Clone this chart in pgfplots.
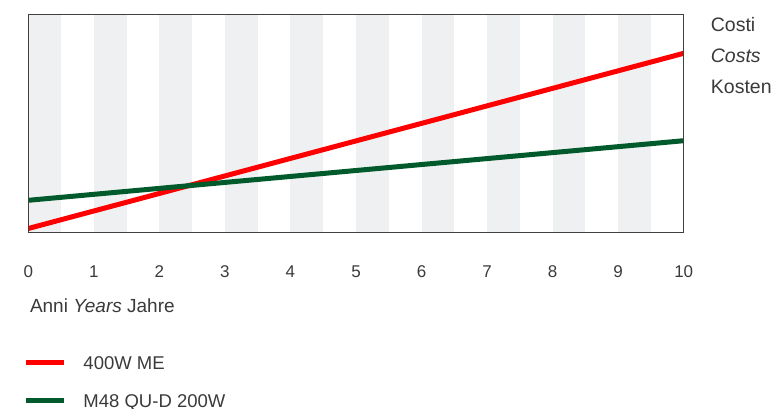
\documentclass[border=0pt]{standalone}
\usepackage{fontspec}
\setmainfont{Liberation Sans}
\usepackage{pgfplots}
\pgfplotsset{compat=1.18}
\definecolor{txt}{HTML}{3A3A3A}
\definecolor{stripe}{HTML}{EFF0F2}
\definecolor{redline}{HTML}{FF0000}
\definecolor{greenline}{HTML}{005A2C}
\begin{document}
\begin{tikzpicture}
\useasboundingbox (0pt,0pt) rectangle (774pt,-409pt);
\begin{axis}[
  at={(28.3pt,-232pt)}, anchor=south west,
  scale only axis, width=655.4pt, height=218pt,
  xmin=0, xmax=10, ymin=0, ymax=218,
  xtick={0,...,10}, ytick=\empty, major tick length=0pt,
  axis line style={draw=black!75, line width=0.9pt},
  axis on top, clip mode=individual,
  /pgf/number format/assume math mode=true,
  xticklabel style={anchor=base, yshift=-45pt, text=txt, font=\fontsize{17}{20}\selectfont},
  xlabel={Anni \textit{Years} Jahre},
  xlabel style={at={(axis description cs:0,0)}, anchor=base west, yshift=-80pt, xshift=1.5pt, inner sep=0pt, text=txt, font=\fontsize{19}{22}\selectfont},
  legend style={at={(axis description cs:0,0)}, anchor=north west, xshift=-4.3pt, yshift=-123pt,
    draw=none, fill=none, inner sep=0pt, outer sep=0pt, row sep=24.5pt, column sep=17.5pt,
    nodes={inner sep=0pt, text=txt, font=\fontsize{18.5}{22}\selectfont, text height=14pt, text depth=0pt}},
  legend cell align=left,
  legend image code/.code={\draw[#1, line width=5pt] (0pt,0pt) -- (37pt,0pt);},
]
% alternating background bands, one per half year
\pgfplotsinvokeforeach{0,...,9}{
  \fill[stripe] (axis cs:#1,0) rectangle (axis cs:#1.5,218);
}
\addplot[redline, line width=5pt] coordinates {(0,3.5) (10,178.7)};
\addlegendentry{400W ME}
\addplot[greenline, line width=5pt] coordinates {(0,31.7) (10,91.3)};
\addlegendentry{M48 QU-D 200W}
\node[anchor=base west, inner sep=0pt, text=txt, font=\fontsize{19.5}{22}\selectfont] at (rel axis cs:1,1) [xshift=27pt, yshift=-17pt] {Costi};
\node[anchor=base west, inner sep=0pt, text=txt, font=\fontsize{19.5}{22}\selectfont] at (rel axis cs:1,1) [xshift=27pt, yshift=-48pt] {\textit{Costs}};
\node[anchor=base west, inner sep=0pt, text=txt, font=\fontsize{19.5}{22}\selectfont] at (rel axis cs:1,1) [xshift=27pt, yshift=-79pt] {Kosten};
\end{axis}
\end{tikzpicture}
\end{document}
